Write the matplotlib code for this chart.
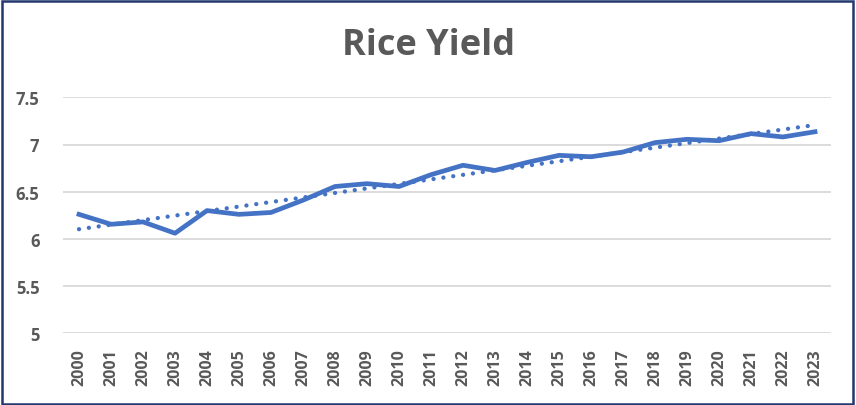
import numpy as np
import matplotlib
matplotlib.use("Agg")
import matplotlib.pyplot as plt
from matplotlib.patches import Rectangle

years = [str(y) for y in range(2000, 2024)]
yield_vals = [6.26, 6.155, 6.18, 6.06, 6.30, 6.26, 6.28, 6.41, 6.555, 6.585,
              6.555, 6.68, 6.78, 6.725, 6.81, 6.885, 6.87, 6.92, 7.02, 7.055,
              7.04, 7.115, 7.08, 7.135]
yticks = [5, 5.5, 6, 6.5, 7, 7.5]
ytick_labels = ["5", "5.5", "6", "6.5", "7", "7.5"]

plt.rcParams['font.family'] = ['Open Sans', 'DejaVu Sans']

fig = plt.figure(figsize=(8.56, 4.06), dpi=100)
ax = fig.add_axes([63/856, 1-334.3/406, (831-63)/856, (334.3-98.3)/406])

x = np.arange(len(years))
line_color = "#4472C4"
ax.plot(x, yield_vals, color=line_color, lw=3.4, solid_joinstyle='round', zorder=3)
coef = np.polyfit(x, yield_vals, 1)
trend = np.polyval(coef, x)
ax.plot(x, trend, color=line_color, lw=3.1, linestyle=(0, (0.01, 2.3)),
        dash_capstyle='round', zorder=2)

ax.set_xlim(-0.5, len(years) - 0.5)
ax.set_ylim(5, 7.5)
ax.set_yticks(yticks)
ax.set_yticklabels(ytick_labels)
ax.set_xticks(x)
ax.set_xticklabels(years, rotation=90)
ax.grid(axis='y', color='#D9D9D9', lw=1.3)
ax.set_axisbelow(True)
for s in ax.spines.values():
    s.set_visible(False)
ax.tick_params(axis='both', length=0, colors='#595959')
ax.tick_params(axis='y', pad=17, labelsize=12)
ax.tick_params(axis='x', pad=11, labelsize=11.5)
for lab in ax.get_xticklabels() + ax.get_yticklabels():
    lab.set_fontweight('bold')

fig.text(428/856, 1-46/406, "Rice Yield", ha='center', va='center',
         fontsize=26, fontweight='bold', color='#595959')

fig.patches.append(Rectangle((0.002, 0.003), 0.994, 0.991, transform=fig.transFigure,
                             fill=False, edgecolor='#22386E', lw=1.8))

fig.savefig("out.png", dpi=100)
